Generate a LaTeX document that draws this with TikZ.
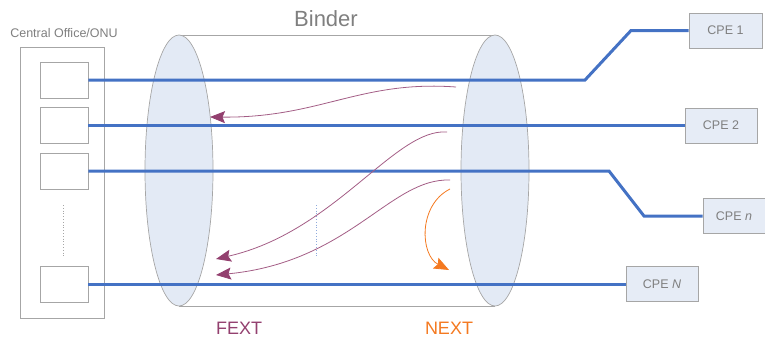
\documentclass[tikz,border=0pt]{standalone}
\usepackage{fontspec}
\setmainfont{Liberation Sans}
\usetikzlibrary{arrows.meta}
\definecolor{lineblue}{HTML}{4472C4}
\definecolor{boxgray}{HTML}{A6A6A6}
\definecolor{txtgray}{HTML}{7F7F7F}
\definecolor{cylfill}{HTML}{E3EAF5}
\definecolor{cpefill}{HTML}{E6ECF6}
\definecolor{fextcol}{HTML}{93406F}
\definecolor{nextcol}{HTML}{F47920}
\tikzset{
  port/.style={draw=boxgray, line width=0.8pt, fill=white, minimum width=48pt, minimum height=36pt, inner sep=0pt},
  cpebox/.style={draw=boxgray, line width=0.8pt, fill=cpefill, minimum height=35pt, inner sep=0pt, text=txtgray, font=\fontsize{12.5}{14}\selectfont},
  pair/.style={draw=lineblue, line width=3pt, line join=miter},
  cyl/.style={draw=boxgray, line width=0.7pt},
  fext/.style={draw=fextcol!85, line width=0.8pt, -{Stealth[length=15pt,width=12pt,inset=2.5pt,color=fextcol]}},
  nextarr/.style={draw=nextcol, line width=0.8pt, -{Stealth[length=15pt,width=12pt,inset=2.5pt,color=nextcol]}},
  lbl/.style={inner sep=0pt, anchor=base}
}
\begin{document}
\begin{tikzpicture}[x=1pt, y=-1pt]
\useasboundingbox (0,0) rectangle (765,341);
% cylinder
\draw[cyl] (179,35) -- (495,35);
\draw[cyl] (179,306) -- (495,306);
\draw[cyl, fill=cylfill] (179,170.5) ellipse [x radius=34, y radius=135.5];
\draw[cyl, fill=cylfill] (495,170.5) ellipse [x radius=34, y radius=135.5];
\node[lbl, text=txtgray, font=\fontsize{22}{24}\selectfont] (binder) at (326,26) {Binder};
% central office
\node[draw=boxgray, line width=0.8pt, minimum width=84pt, minimum height=271pt, inner sep=0pt] (co) at (62,182.5) {};
\node[lbl, text=txtgray, font=\fontsize{12.5}{14}\selectfont] (colbl) at (64,37) {Central Office/ONU};
\node[port] (p1) at (64,80) {};
\node[port] (p2) at (64,125.5) {};
\node[port] (p3) at (64,171) {};
\node[port] (p4) at (64,284) {};
\draw[boxgray, line width=0.8pt, dotted] (63.5,205) -- (63.5,258);
% CPE boxes
\node[cpebox, minimum width=73pt] (c1) at (725.5,30.5) {CPE 1};
\node[cpebox, minimum width=72pt] (c2) at (721,125.5) {CPE 2};
\node[cpebox, minimum width=62pt] (cn) at (734,216) {CPE {\itshape n}};
\node[cpebox, minimum width=72pt] (cN) at (662,284) {CPE {\itshape N}};
% pairs
\draw[pair] (p1.east) -- (585,80) -- (631,30.5) -- (c1.west);
\draw[pair] (p2.east) -- (c2.west);
\draw[pair] (p3.east) -- (609,171) -- (644,216) -- (cn.west);
\draw[pair] (p4.east) -- (cN.west);
% middle dots
\draw[lineblue!60, line width=0.8pt, dotted] (316,205) -- (316,258);
% crosstalk arrows
\coordinate (s1) at (456,87);
\coordinate (t1) at (210,117);
\coordinate (s2) at (447,132);
\coordinate (t2) at (216,259);
\coordinate (s3) at (450,180);
\coordinate (t3) at (216,275);
\coordinate (s4) at (450,189);
\coordinate (t4) at (449,270);
\draw[fext] (s1) .. controls (360,80) and (320,118) .. (t1);
\draw[fext] (s2) .. controls (395,128) and (335,232) .. (t2);
\draw[fext] (s3) .. controls (390,178) and (350,262) .. (t3);
\draw[nextarr] (s4) .. controls (418,205) and (420,255) .. (t4);
% labels
\node[lbl, text=fextcol, font=\fontsize{18}{20}\selectfont] (fextlbl) at (239,334) {FEXT};
\node[lbl, text=nextcol, font=\fontsize{18}{20}\selectfont] (nextlbl) at (449,334) {NEXT};
\end{tikzpicture}
\end{document}
